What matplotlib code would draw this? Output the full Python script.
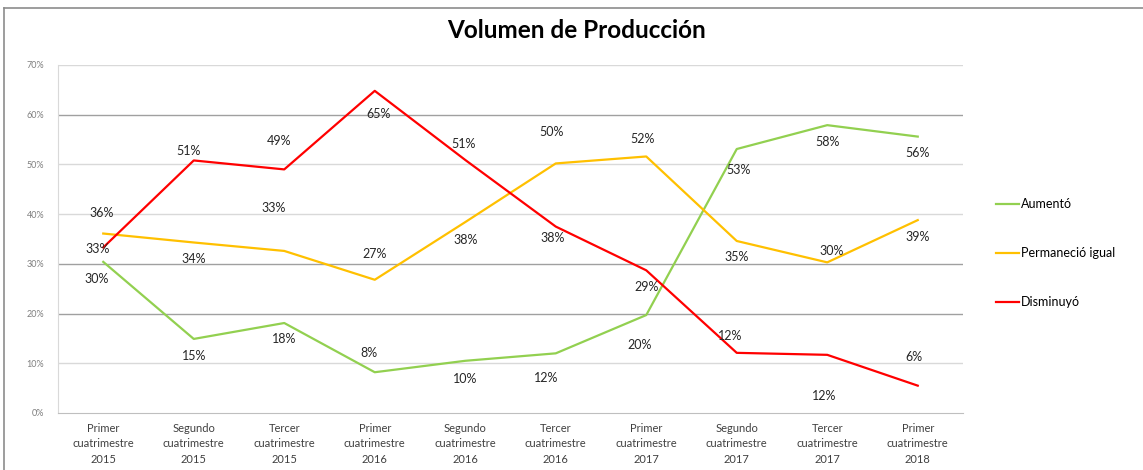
import numpy as np
import matplotlib
matplotlib.use("Agg")
import matplotlib.pyplot as plt
from matplotlib.lines import Line2D

plt.rcParams['font.family'] = ['Lato', 'DejaVu Sans']

# categories and series (percent)
categories = ["Primer\ncuatrimestre\n2015", "Segundo\ncuatrimestre\n2015", "Tercer\ncuatrimestre\n2015",
              "Primer\ncuatrimestre\n2016", "Segundo\ncuatrimestre\n2016", "Tercer\ncuatrimestre\n2016",
              "Primer\ncuatrimestre\n2017", "Segundo\ncuatrimestre\n2017", "Tercer\ncuatrimestre\n2017",
              "Primer\ncuatrimestre\n2018"]
aumento = [30.4, 14.9, 18.1, 8.2, 10.5, 12.0, 19.7, 53.1, 57.9, 55.6]
permanecio = [36.1, 34.3, 32.6, 26.8, 38.4, 50.2, 51.6, 34.6, 30.3, 38.8]
disminuyo = [33.3, 50.8, 49.0, 64.8, 50.9, 37.5, 28.7, 12.1, 11.7, 5.5]
series_names = ["Aumentó", "Permaneció igual", "Disminuyó"]

# label offsets in pixels (dx, dy up positive) -- picked by eye
off_aum = [(-7, -17), (0, -17), (0, -16), (-6, 19), (0, -18), (-10, -25), (-7, -30), (2, -21), (0, -17), (0, -16)]
off_per = [(-2, 21), (0, -17), (-11, 43), (0, 26), (0, -18), (-4, 31), (-4, 17), (0, -16), (4, 11), (0, -17)]
off_dis = [(-6, -2), (-5, 9), (-5, 28), (4, -23), (-2, 16), (-3, -11), (0, -17), (-7, 17), (-3, -41), (-4, 29)]

colors = ["#92D050", "#FFC000", "#FF0000"]

fig = plt.figure(figsize=(11.43, 4.70), dpi=100)
ax = fig.add_axes([58 / 1143, 57 / 470, 905 / 1143, 348 / 470])

x = np.arange(len(categories))

# gridlines (some render darker in the original)
for lev in range(10, 71, 10):
    c = "#a0a0a0" if lev in (20, 30, 60) else "#d9d9d9"
    ax.axhline(lev, color=c, lw=1, zorder=0)

for vals, offs, col, name in zip([aumento, permanecio, disminuyo], [off_aum, off_per, off_dis], colors, series_names):
    ax.plot(x, vals, color=col, lw=1.6, label=name, zorder=2)
    for xi, v, (dx, dy) in zip(x, vals, offs):
        ax.annotate("%d%%" % round(v), (xi, v), xytext=(dx, dy), textcoords="offset pixels",
                    ha="center", va="center", fontsize=9, color="#262626", zorder=3)

ax.set_xlim(-0.5, 9.5)
ax.set_ylim(0, 70)
ax.set_xticks(x)
ax.set_xticklabels(categories, fontsize=8, color="#404040", linespacing=1.5)
ax.set_yticks(range(0, 71, 10))
ax.set_yticklabels(["%d%%" % v for v in range(0, 71, 10)], fontsize=6.5, color="#7f7f7f")
ax.tick_params(axis="both", length=0)
ax.tick_params(axis="y", pad=10)
ax.tick_params(axis="x", pad=7)

for s in ["top", "right"]:
    ax.spines[s].set_visible(False)
ax.spines["left"].set_color("#d9d9d9")
ax.spines["bottom"].set_color("#bfbfbf")

fig.text(577 / 1143, 1 - 31 / 470, "Volumen de Producción", ha="center", va="center",
         fontsize=17.5, fontweight="bold", color="black")

fig.legend(loc="center left", bbox_to_anchor=(985 / 1143, 1 - 253 / 470), frameon=False,
           fontsize=9, handlelength=1.8, handletextpad=0.2, labelspacing=2.95)

# outer chart border (top and left only visible)
fig.add_artist(Line2D([4 / 1143, 1], [1 - 8 / 470, 1 - 8 / 470], color="#8c8c8c", lw=1.2))
fig.add_artist(Line2D([4 / 1143, 4 / 1143], [0, 1 - 8 / 470], color="#8c8c8c", lw=1.2))

plt.savefig("out.png", dpi=100)
